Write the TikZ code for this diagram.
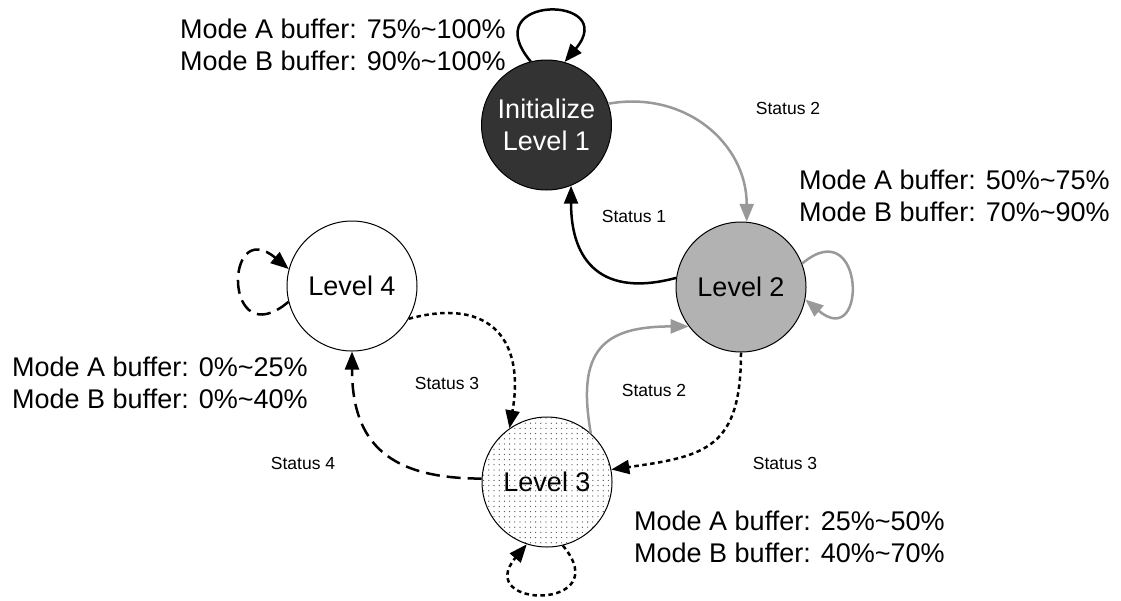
\documentclass[tikz,border=0pt]{standalone}
\usepackage{fontspec}
\setmainfont{Liberation Sans}
\usetikzlibrary{arrows.meta,patterns}

% sparse dot grid used for the Level 3 state
\pgfdeclarepatternformonly{sparsedots}{\pgfqpoint{-1pt}{-1pt}}{\pgfqpoint{1pt}{1pt}}{\pgfqpoint{5.2pt}{5.2pt}}{%
  \pgfpathcircle{\pgfqpoint{0pt}{0pt}}{0.65pt}\pgfusepath{fill}}

\tikzset{
  state/.style={circle, draw=black, line width=1pt, minimum size=130pt, inner sep=0pt,
    font=\fontsize{27}{32}\selectfont, align=center},
  edge/.style={line width=2.5pt, -{Triangle[length=18pt,width=14pt]}},
  greyedge/.style={edge, draw=black!40},
  dotline/.style={dash pattern=on 4.5pt off 3.5pt},
  longdash/.style={dash pattern=on 14pt off 7pt},
  % anchored on the baseline of the last line
  buffer/.style={font=\fontsize{27}{32}\selectfont, align=left, anchor=base west, inner sep=0pt},
  status/.style={font=\fontsize{17.5}{21}\selectfont, inner sep=0pt},
}

\begin{document}
\begin{tikzpicture}[x=1pt,y=1pt]
  \fill[white] (0,0) rectangle (1121,-600);
  \path[use as bounding box] (0,0) rectangle (1121,-600);

  % states
  \node[state, fill=black!80, text=white] (L1) at (546.5,-125) {Initialize\\Level 1};
  \node[state, fill=black!30] (L2) at (741,-287) {Level 2};
  \node[state, pattern=sparsedots, pattern color=black!70] (L3) at (547,-482) {Level 3};
  \node[state, fill=white] (L4) at (352,-286) {Level 4};

  % buffer ranges
  \node[buffer] (bufA) at (180,-70) {Mode A buffer: 75\%\textasciitilde100\%\\Mode B buffer: 90\%\textasciitilde100\%};
  \node[buffer] (bufB) at (799,-221) {Mode A buffer: 50\%\textasciitilde75\%\\Mode B buffer: 70\%\textasciitilde90\%};
  \node[buffer] (bufC) at (634,-562) {Mode A buffer: 25\%\textasciitilde50\%\\Mode B buffer: 40\%\textasciitilde70\%};
  \node[buffer] (bufD) at (12,-408) {Mode A buffer: 0\%\textasciitilde25\%\\Mode B buffer: 0\%\textasciitilde40\%};

  % transitions
  \draw[greyedge] (L1.19) to[out=10, in=90, looseness=1.1] (L2.85);
  \draw[edge] (L2.172) to[out=195, in=-90, looseness=1.4] (L1.292);
  \draw[greyedge] (L3.48) to[out=100, in=180, looseness=1.5] (L2.217);
  \draw[edge, dotline] (L2.270) to[out=-90, in=8, looseness=1.4] (L3.11);
  \draw[edge, dotline] (L4.330) to[out=15, in=80, looseness=1.5] (L3.125);
  \draw[edge, longdash] (L3.177) to[out=180, in=-90, looseness=1.3] (L4.270);

  % self loops
  \draw[edge] (L1.104) .. controls +(130:88) and +(50:88) .. (L1.74);
  \draw[greyedge] (L2.21) .. controls +(40:82) and +(-40:82) .. (L2.-11);
  \draw[edge, longdash] (L4.194) .. controls +(220:85) and +(140:85) .. (L4.165);
  \draw[edge, dotline] (L3.284) .. controls +(-50:85) and +(-130:85) .. (L3.252);

  % transition labels
  \node[status] (s12) at (788,-108) {Status 2};
  \node[status] (s21) at (634,-216) {Status 1};
  \node[status] (s43) at (447,-383) {Status 3};
  \node[status] (s32) at (654,-390) {Status 2};
  \node[status] (s23) at (785,-463) {Status 3};
  \node[status] (s34) at (303,-463) {Status 4};
\end{tikzpicture}
\end{document}
